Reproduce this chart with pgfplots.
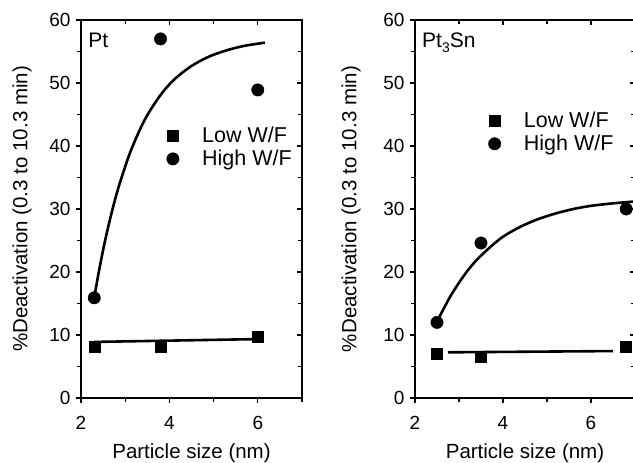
\documentclass[border=0pt]{standalone}
\usepackage{fontspec}
\setmainfont{Liberation Sans}
\usepackage{pgfplots}
\pgfplotsset{compat=1.18}

\pgfplotsset{
  panel/.style={
    scale only axis, height=378pt, clip=false,
    xmin=2, xmax=7, ymin=0, ymax=60,
    xtick={2,4,6}, minor xtick={3,5,7},
    ytick={0,10,...,60}, minor ytick={5,15,...,55},
    tick align=outside, xtick pos=left, ytick pos=left,
    major tick length=5pt, minor tick length=4pt,
    tick style={line width=1.2pt, black},
    axis line style={line width=1.2pt},
    ticklabel style={font=\fontsize{19}{19}\selectfont},
    yticklabel style={xshift=-2pt},
    xticklabel style={anchor=base, yshift=-27pt},
    /pgf/number format/assume math mode=true,
    legend style={draw=none, fill=none, font=\fontsize{21.5}{21.5}\selectfont,
      row sep=2pt, inner sep=0pt, anchor=north west,
      /tikz/every odd column/.append style={column sep=21pt}},
    legend cell align=left,
  },
  inticks/.style={
    scale only axis, height=378pt,
    xmin=2, xmax=7, ymin=0, ymax=60,
    xtick={2,4,6}, minor xtick={3,5,7},
    ytick={0,10,...,60}, minor ytick={5,15,...,55},
    tick align=inside, xtick pos=right, ytick pos=right,
    major tick length=5pt, minor tick length=4pt,
    tick style={line width=1.2pt, black},
    axis line style={line width=1.2pt},
    xticklabels={}, yticklabels={},
  },
  lowmark/.style={only marks, mark=square*, mark size=5.5pt, black},
  highmark/.style={only marks, mark=*, mark size=6.2pt, black},
  fit/.style={black, line width=2.6pt, no marks, smooth},
}
\newcommand\labfont{\fontsize{20.5}{20.5}\selectfont}

\begin{document}
\begin{tikzpicture}
% left panel: Pt
\begin{axis}[panel, width=221pt, at={(0pt,0pt)}, anchor=south west,
  legend style={at={(axis description cs:0.387,0.722)}}]
  \addplot[lowmark] coordinates {(2.3,8.1) (3.8,8.1) (6.0,9.7)};
  \addlegendentry{Low W/F}
  \addplot[highmark] coordinates {(2.3,15.9) (3.8,57.0) (6.0,48.9)};
  \addlegendentry{High W/F}
  \addplot[fit, forget plot] coordinates {(2.3,8.9) (6.0,9.35)};
  \addplot[fit, forget plot] coordinates {
    (2.3,16.0) (2.4,19.9) (2.5,23.5) (2.6,26.7) (2.7,29.6) (2.8,32.25)
    (2.9,34.6) (3.1,38.75) (3.3,42.1) (3.5,44.9) (3.8,48.1) (4.1,50.5)
    (4.5,52.7) (4.9,54.2) (5.3,55.2) (5.7,55.9) (6.16,56.4)};
  \node[anchor=north west, inner sep=0pt, font=\fontsize{21}{21}\selectfont]
    at (rel axis cs:0.032,0.966) {Pt};
  \node[anchor=base, inner sep=0pt, font=\labfont]
    at ([yshift=-61pt]rel axis cs:0.5,0) {Particle size (nm)};
  \node[anchor=center, rotate=90, inner sep=0pt, font=\labfont]
    at ([xshift=-59pt]rel axis cs:0,0.5) {\%Deactivation (0.3 to 10.3 min)};
\end{axis}
\begin{axis}[inticks, width=221pt, at={(0pt,0pt)}, anchor=south west]
\end{axis}
% right panel: Pt3Sn
\begin{axis}[panel, width=220pt, at={(334pt,0pt)}, anchor=south west,
  legend style={at={(axis description cs:0.333,0.762)}}]
  \addplot[lowmark] coordinates {(2.5,7.0) (3.5,6.5) (6.8,8.1)};
  \addlegendentry{Low W/F}
  \addplot[highmark] coordinates {(2.5,12.0) (3.5,24.6) (6.8,30.0)};
  \addlegendentry{High W/F}
  \addplot[fit, forget plot] coordinates {(2.75,7.25) (6.5,7.45)};
  \addplot[fit, forget plot] coordinates {
    (2.5,12.0) (2.6,13.5) (2.7,14.8) (2.8,16.1) (3.0,18.3) (3.2,20.25)
    (3.4,21.9) (3.7,23.9) (4.0,25.6) (4.4,27.2) (4.8,28.4) (5.2,29.3)
    (5.6,30.0) (6.0,30.5) (6.5,30.9) (7.0,31.2)};
  \node[anchor=north west, inner sep=0pt, font=\fontsize{21}{21}\selectfont]
    at (rel axis cs:0.032,0.966) {Pt\raisebox{-5pt}{\fontsize{14}{14}\selectfont 3}Sn};
  \node[anchor=base, inner sep=0pt, font=\labfont]
    at ([yshift=-61pt]rel axis cs:0.5,0) {Particle size (nm)};
  \node[anchor=center, rotate=90, inner sep=0pt, font=\labfont]
    at ([xshift=-64pt]rel axis cs:0,0.5) {\%Deactivation (0.3 to 10.3 min)};
\end{axis}
\begin{axis}[inticks, width=220pt, at={(334pt,0pt)}, anchor=south west]
\end{axis}
\pgfresetboundingbox
\path[use as bounding box] (-81pt,-65pt) rectangle (552pt,398pt);
\end{tikzpicture}
\end{document}
